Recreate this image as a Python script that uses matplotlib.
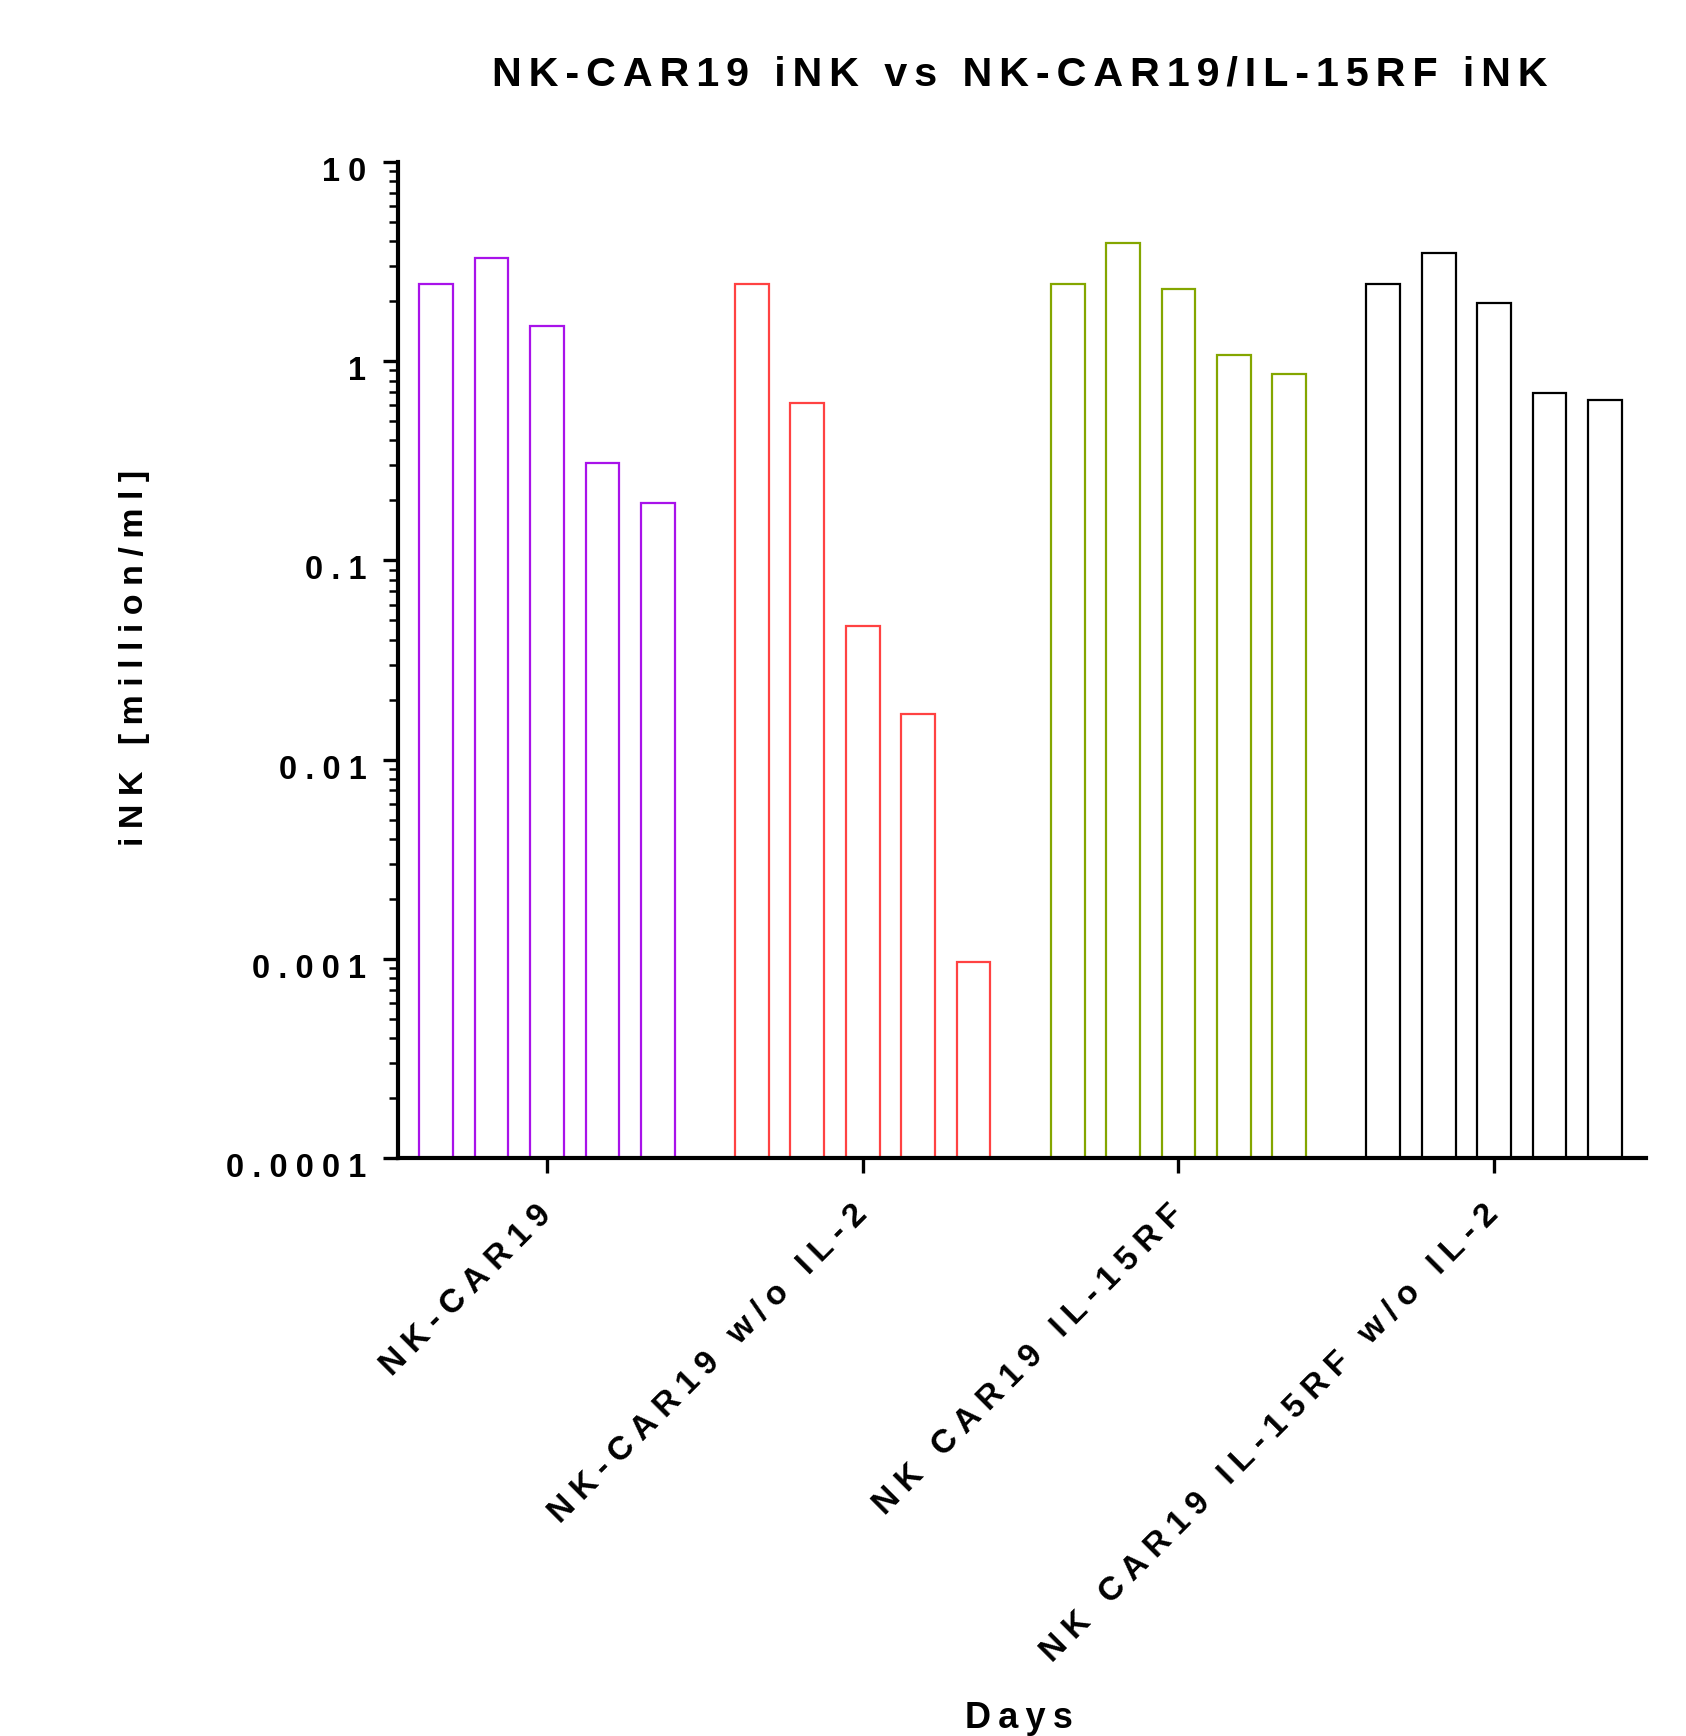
import numpy as np
import matplotlib
matplotlib.use('Agg')
import matplotlib.pyplot as plt
from matplotlib.ticker import FixedLocator, FixedFormatter, LogLocator, NullFormatter
from matplotlib.transforms import ScaledTranslation

plt.rcParams['font.family'] = ['Liberation Sans', 'DejaVu Sans']
plt.rcParams['font.weight'] = 'bold'

# data (million/ml), five days per condition
groups = ['NK-CAR19', 'NK-CAR19 w/o IL-2', 'NK CAR19 IL-15RF', 'NK CAR19 IL-15RF w/o IL-2']
nk_car19 = [2.45, 3.3, 1.5, 0.31, 0.195]
nk_car19_no_il2 = [2.45, 0.62, 0.047, 0.017, 0.00096]
nk_car19_il15rf = [2.45, 3.9, 2.3, 1.07, 0.86]
nk_car19_il15rf_no_il2 = [2.45, 3.5, 1.97, 0.69, 0.64]
colors = ['#A812EA', '#FF4242', '#84A600', '#000000']
yticks = [1e-4, 1e-3, 1e-2, 1e-1, 1, 10]
ytick_labels = ['0.0001', '0.001', '0.01', '0.1', '1', '10']
title = 'NK-CAR19 iNK vs NK-CAR19/IL-15RF iNK'

# letter spacing like the original (em spaces between chars)
SP_FOUR = '\u2005'
SP_SIX = '\u2006'
SP_THIN = '\u2009'


def track(s, sp):
    return sp.join(s)


fig = plt.figure(figsize=(16.86, 17.36), dpi=100)
ax = fig.add_axes([398 / 1686, 1 - 1158 / 1736, (1646 - 398) / 1686, (1158 - 162) / 1736])

series = [nk_car19, nk_car19_no_il2, nk_car19_il15rf, nk_car19_il15rf_no_il2]
pitch = 0.1755
for g, (vals, c) in enumerate(zip(series, colors)):
    x = g + (np.arange(len(vals)) - 2) * pitch
    ax.bar(x, np.array(vals) - 1e-4, bottom=1e-4, width=0.107,
           facecolor='white', edgecolor=c, linewidth=1.6, zorder=2)

ax.set_yscale('log')
ax.set_ylim(1e-4, 10)
ax.set_xlim(-0.472, 3.481)

for side in ['top', 'right']:
    ax.spines[side].set_visible(False)
for side in ['left', 'bottom']:
    ax.spines[side].set_linewidth(3.0)
    ax.spines[side].set_zorder(3)

ax.yaxis.set_major_locator(FixedLocator(yticks))
ax.yaxis.set_major_formatter(FixedFormatter([track(t, SP_FOUR) for t in ytick_labels]))
ax.yaxis.set_minor_locator(LogLocator(base=10, subs=np.arange(2, 10)))
ax.yaxis.set_minor_formatter(NullFormatter())
ax.tick_params(axis='y', which='major', direction='out', length=10.8, width=2.4,
               pad=12, labelsize=23.5)
ax.tick_params(axis='y', which='minor', direction='out', length=6.5, width=1.8)
for lab in ax.get_yticklabels():
    lab.set_fontweight('bold')
    lab.set_transform(lab.get_transform() + ScaledTranslation(0, -0.07, fig.dpi_scale_trans))

ax.set_xticks(range(len(groups)))
ax.set_xticklabels([track(g, SP_FOUR) for g in groups], rotation=45, ha='right',
                   va='center', rotation_mode='anchor', fontsize=24, fontweight='bold')
ax.tick_params(axis='x', which='major', direction='out', length=10.8, width=2.4, pad=26.6)

fig.text(1020 / 1686, 1 - 85 / 1736, track(title, SP_SIX), ha='center', va='baseline',
         fontsize=29.8, fontweight='bold')
fig.text(1019 / 1686, 1 - 1728 / 1736, track('Days', SP_THIN), ha='center', va='baseline',
         fontsize=26, fontweight='bold')
fig.text(135 / 1686, 1 - 658 / 1736, track('iNK [million/ml]', SP_FOUR), rotation=90,
         ha='center', va='center', fontsize=24.5, fontweight='bold')

fig.savefig('out.png', dpi=100)
